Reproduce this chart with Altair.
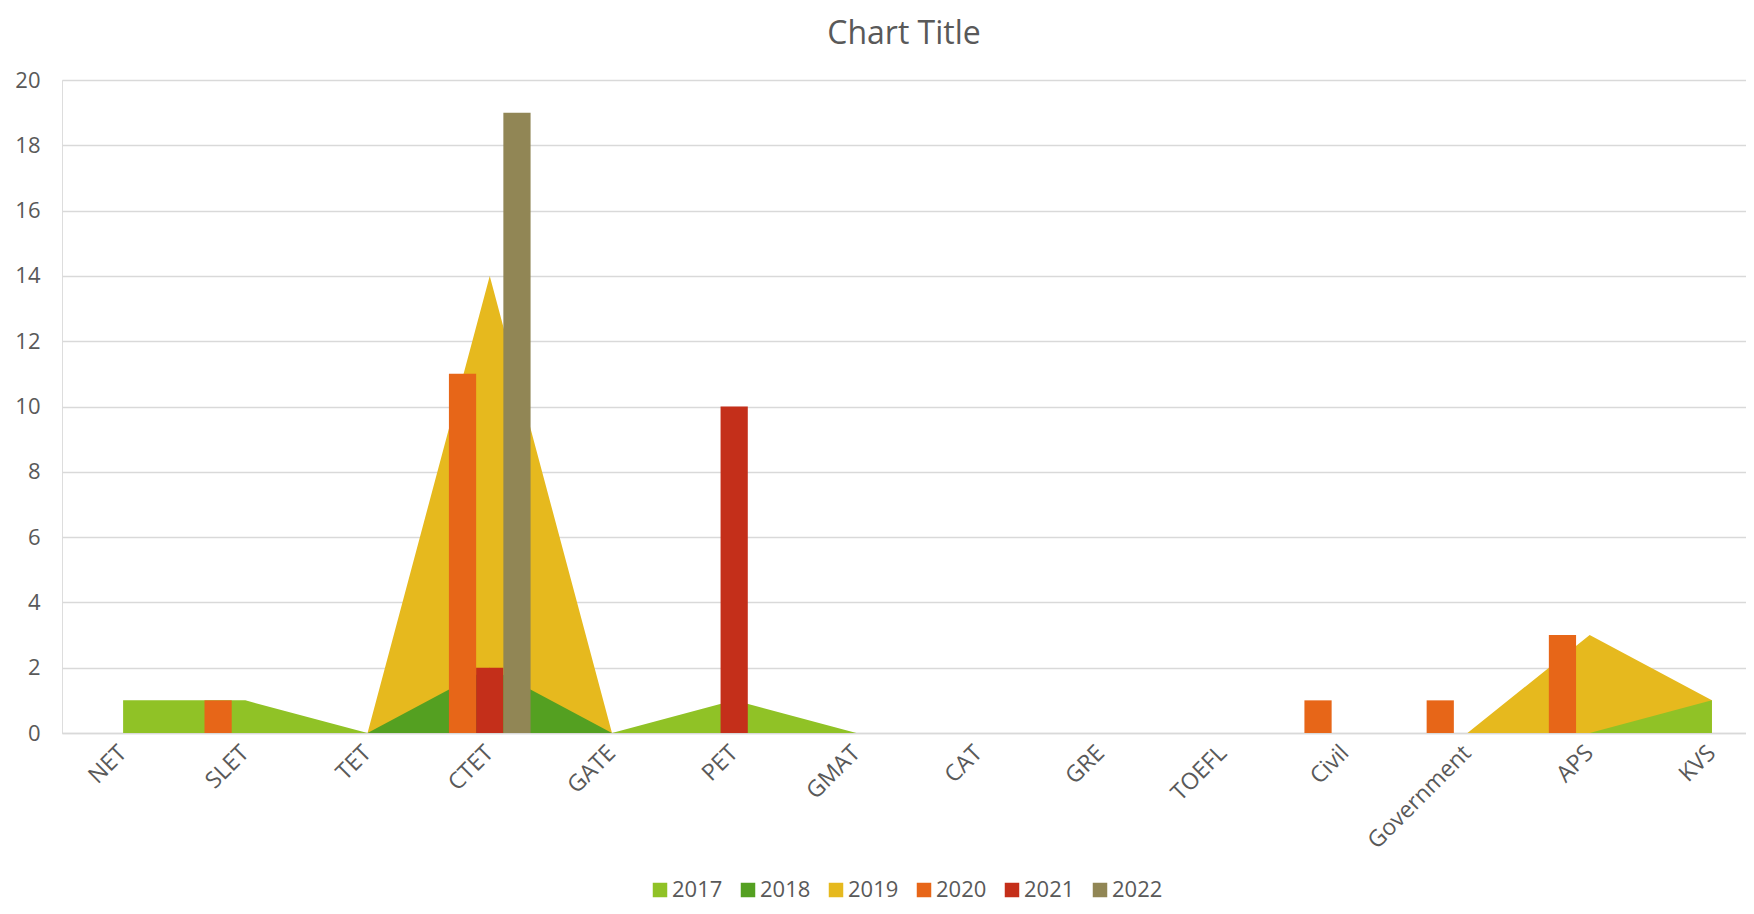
import altair as alt
import pandas as pd

categories = ["NET", "SLET", "TET", "CTET", "GATE", "PET", "GMAT", "CAT", "GRE",
              "TOEFL", "Civil", "Government", "APS", "KVS"]
years = ["2017", "2018", "2019", "2020", "2021", "2022"]
v2017 = [1, 1, 0, 0, 0, 1, 0, 0, 0, 0, 0, 0, 0, 1]
v2018 = [0, 0, 0, 2, 0, 0, 0, 0, 0, 0, 0, 0, 0, 0]
v2019 = [0, 0, 0, 14, 0, 0, 0, 0, 0, 0, 0, 0, 3, 1]
v2020 = [0, 1, 0, 11, 0, 0, 0, 0, 0, 0, 1, 1, 3, 0]
v2021 = [0, 0, 0, 2, 0, 10, 0, 0, 0, 0, 0, 0, 0, 0]
v2022 = [0, 0, 0, 19, 0, 0, 0, 0, 0, 0, 0, 0, 0, 0]
colors = ["#90C226", "#54A021", "#E6B91E", "#E76618", "#C42F1A", "#918655"]
area_years = ["2019", "2018", "2017"]   # drawing order, back to front
bar_years = ["2020", "2021", "2022"]
y_ticks = list(range(0, 21, 2))

series = dict(zip(years, [v2017, v2018, v2019, v2020, v2021, v2022]))
rows = []
for yr, vals in series.items():
    for c, v in zip(categories, vals):
        rows.append({"category": c, "year": yr, "value": v})
df = pd.DataFrame(rows)

FONT = "Open Sans"
TXT = "#595959"
GRID = "#D9D9D9"

xscale = alt.Scale(type="band", domain=categories, paddingInner=0, paddingOuter=0,
                   range=[0, 1711])
yscale = alt.Scale(domain=[0, 20], nice=False)
cscale = alt.Scale(domain=years, range=colors)

x_axis = alt.Axis(title=None, labelAngle=-45, labelFontSize=23,
                  labelColor=TXT, labelFont=FONT, ticks=False, grid=False,
                  domainColor=GRID, domainWidth=1.5, labelPadding=16,
                  labelAlign="right", labelBaseline="middle")
y_axis = alt.Axis(title=None, values=y_ticks, labelFontSize=22,
                  labelColor=TXT, labelFont=FONT, ticks=False, domain=False,
                  gridColor=GRID, gridWidth=1.5, labelPadding=22)
x_enc = alt.X("category:N", sort=categories, scale=xscale, axis=x_axis)
color_enc = alt.Color("year:N", scale=cscale,
                      legend=alt.Legend(title=None, orient="none", direction="horizontal",
                                        legendX=587, legendY=799, symbolType="square",
                                        symbolSize=210, labelFontSize=22, labelFont=FONT,
                                        labelColor=TXT, labelOffset=1, columnPadding=14,
                                        symbolStrokeWidth=0, values=years))

base = alt.Chart(df)
layers = []
for yr in area_years:
    layers.append(
        base.transform_filter(alt.datum.year == yr)
        .mark_area(opacity=1, interpolate="linear")
        .encode(x=x_enc, y=alt.Y("value:Q", scale=yscale, stack=None, axis=y_axis),
                color=color_enc)
    )
bars = (
    base.transform_filter(alt.FieldOneOfPredicate(field="year", oneOf=bar_years))
    .transform_filter(alt.datum.value > 0)
    .mark_bar(opacity=1)
    .encode(x=x_enc, y=alt.Y("value:Q", scale=yscale, axis=y_axis),
            xOffset=alt.XOffset("year:N", scale=alt.Scale(domain=bar_years, paddingOuter=0.745,
                                                          paddingInner=0)),
            color=color_enc)
)
layers.append(bars)

chart = (
    alt.layer(*layers)
    .properties(
        width=1684, height=653,
        title=alt.TitleParams("Chart Title", fontSize=32, font=FONT, color=TXT,
                              fontWeight="normal", anchor="middle", offset=18),
        autosize=alt.AutoSizeParams(type="none"),
        padding={"left": 54, "top": 72, "right": 0, "bottom": 173},
    )
    .configure_view(stroke=None)
    .configure(background="white")
)

chart.save("out.html", embed_options={"renderer": "svg", "actions": False})
